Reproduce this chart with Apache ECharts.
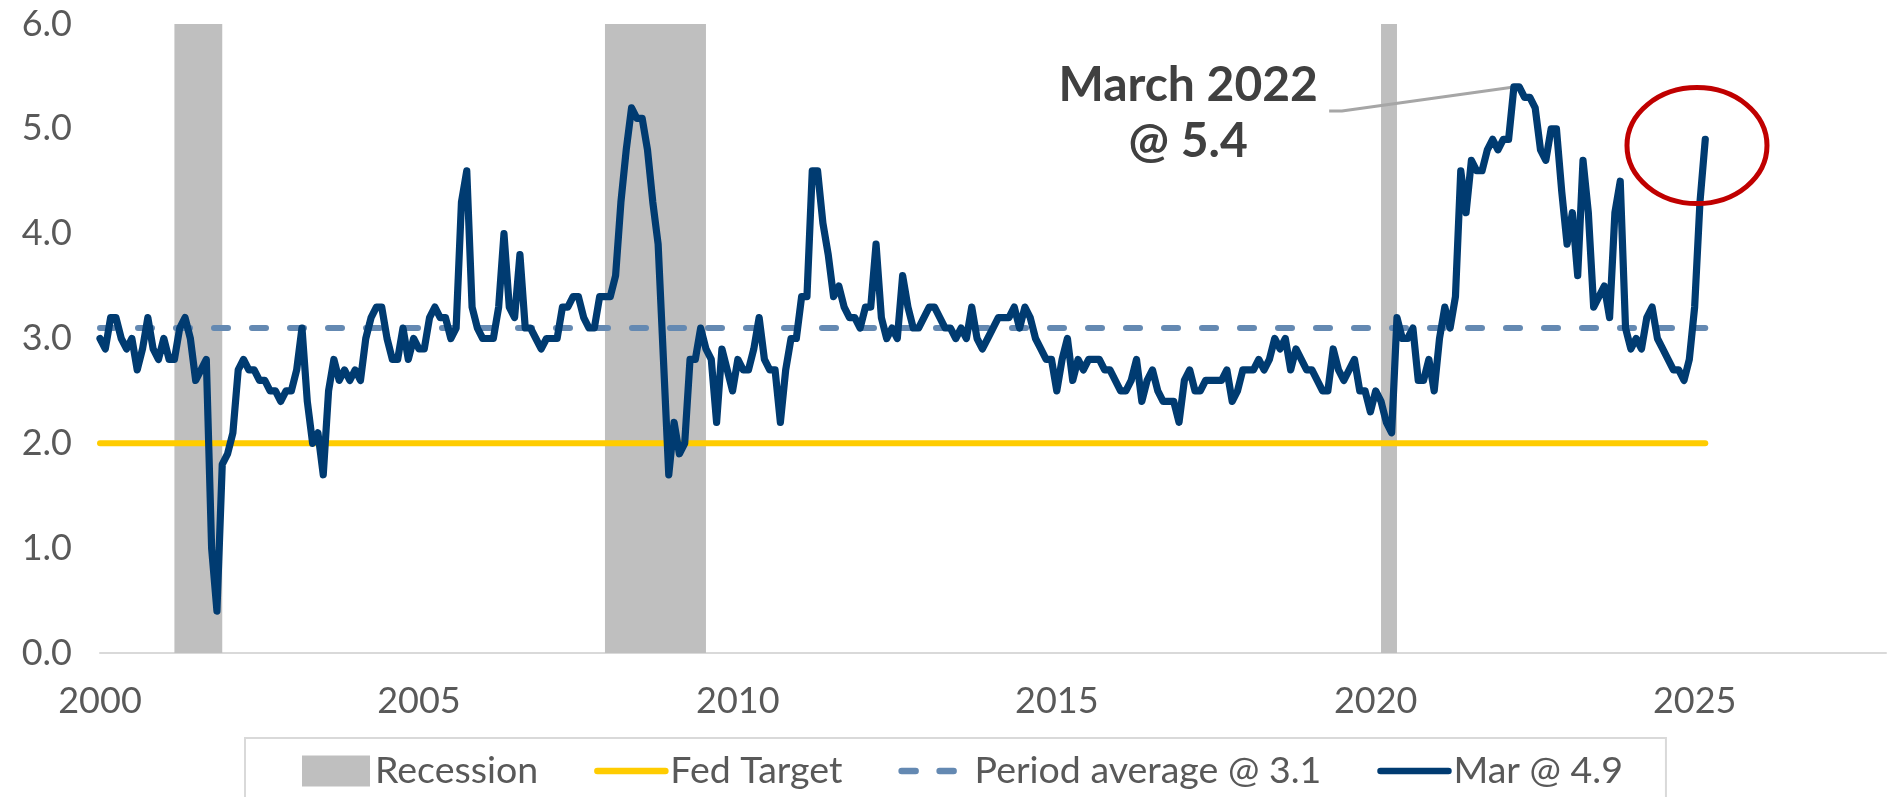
<!DOCTYPE html>
<html>
<head>
<meta charset="utf-8">
<script src="https://cdn.jsdelivr.net/npm/echarts@6/dist/echarts.min.js"></script>
<style>
  html, body { margin: 0; padding: 0; background: #fff; }
  #chart { width: 1892px; height: 797px; }
</style>
</head>
<body>
<div id="chart"></div>
<script>
// monthly 1-year inflation expectations, Jan 2000 .. Mar 2025
const startYear = 2000;
const expectations = [
  3.0, 2.9, 3.2, 3.2, 3.0, 2.9, 3.0, 2.7, 2.9, 3.2, 2.9, 2.8, // 2000
  3.0, 2.8, 2.8, 3.1, 3.2, 3.0, 2.6, 2.7, 2.8, 1.0, 0.4, 1.8, // 2001
  1.9, 2.1, 2.7, 2.8, 2.7, 2.7, 2.6, 2.6, 2.5, 2.5, 2.4, 2.5, // 2002
  2.5, 2.7, 3.1, 2.4, 2.0, 2.1, 1.7, 2.5, 2.8, 2.6, 2.7, 2.6, // 2003
  2.7, 2.6, 3.0, 3.2, 3.3, 3.3, 3.0, 2.8, 2.8, 3.1, 2.8, 3.0, // 2004
  2.9, 2.9, 3.2, 3.3, 3.2, 3.2, 3.0, 3.1, 4.3, 4.6, 3.3, 3.1, // 2005
  3.0, 3.0, 3.0, 3.3, 4.0, 3.3, 3.2, 3.8, 3.1, 3.1, 3.0, 2.9, // 2006
  3.0, 3.0, 3.0, 3.3, 3.3, 3.4, 3.4, 3.2, 3.1, 3.1, 3.4, 3.4, // 2007
  3.4, 3.6, 4.3, 4.8, 5.2, 5.1, 5.1, 4.8, 4.3, 3.9, 2.8, 1.7, // 2008
  2.2, 1.9, 2.0, 2.8, 2.8, 3.1, 2.9, 2.8, 2.2, 2.9, 2.7, 2.5, // 2009
  2.8, 2.7, 2.7, 2.9, 3.2, 2.8, 2.7, 2.7, 2.2, 2.7, 3.0, 3.0, // 2010
  3.4, 3.4, 4.6, 4.6, 4.1, 3.8, 3.4, 3.5, 3.3, 3.2, 3.2, 3.1, // 2011
  3.3, 3.3, 3.9, 3.2, 3.0, 3.1, 3.0, 3.6, 3.3, 3.1, 3.1, 3.2, // 2012
  3.3, 3.3, 3.2, 3.1, 3.1, 3.0, 3.1, 3.0, 3.3, 3.0, 2.9, 3.0, // 2013
  3.1, 3.2, 3.2, 3.2, 3.3, 3.1, 3.3, 3.2, 3.0, 2.9, 2.8, 2.8, // 2014
  2.5, 2.8, 3.0, 2.6, 2.8, 2.7, 2.8, 2.8, 2.8, 2.7, 2.7, 2.6, // 2015
  2.5, 2.5, 2.6, 2.8, 2.4, 2.6, 2.7, 2.5, 2.4, 2.4, 2.4, 2.2, // 2016
  2.6, 2.7, 2.5, 2.5, 2.6, 2.6, 2.6, 2.6, 2.7, 2.4, 2.5, 2.7, // 2017
  2.7, 2.7, 2.8, 2.7, 2.8, 3.0, 2.9, 3.0, 2.7, 2.9, 2.8, 2.7, // 2018
  2.7, 2.6, 2.5, 2.5, 2.9, 2.7, 2.6, 2.7, 2.8, 2.5, 2.5, 2.3, // 2019
  2.5, 2.4, 2.2, 2.1, 3.2, 3.0, 3.0, 3.1, 2.6, 2.6, 2.8, 2.5, // 2020
  3.0, 3.3, 3.1, 3.4, 4.6, 4.2, 4.7, 4.6, 4.6, 4.8, 4.9, 4.8, // 2021
  4.9, 4.9, 5.4, 5.4, 5.3, 5.3, 5.2, 4.8, 4.7, 5.0, 5.0, 4.4, // 2022
  3.9, 4.2, 3.6, 4.7, 4.2, 3.3, 3.4, 3.5, 3.2, 4.2, 4.5, 3.1, // 2023
  2.9, 3.0, 2.9, 3.2, 3.3, 3.0, 2.9, 2.8, 2.7, 2.7, 2.6, 2.8, // 2024
  3.3, 4.3, 4.9                                               // 2025
];
const recessions = [['2001-03', '2001-11'], ['2007-12', '2009-06'], ['2020-02', '2020-04']];
const fedTarget = 2.0;
const periodAverage = 3.1;
const xTicks = [2000, 2005, 2010, 2015, 2020, 2025];
const yTicks = [0, 1, 2, 3, 4, 5, 6];
const peak = { month: '2022-03', value: 5.4, label: ['March 2022', '@ 5.4'] };

const FONT = 'Lato, "Open Sans", sans-serif';

const monthToX = (ym, end) => {
  const [y, m] = ym.split('-').map(Number);
  return y + (m - (end ? 0 : 1)) / 12;
};
const lineData = expectations.map((v, i) => [startYear + i / 12, v]);
const firstX = lineData[0][0];
const lastX = lineData[lineData.length - 1][0];
const lastValue = expectations[expectations.length - 1];
const peakX = monthToX(peak.month);
const lastName = 'Mar @ ' + lastValue.toFixed(1);

const chart = echarts.init(document.getElementById('chart'));

// line items in the legend: just a thick stroke, no marker
const lineItem = name => ({ name, itemStyle: { opacity: 0 }, lineStyle: { width: 6.5, cap: 'round' } });

chart.setOption({
  animation: false,
  grid: { left: 100, right: 6, top: 24, bottom: 144 },
  xAxis: {
    type: 'value',
    min: xTicks[0],
    max: 2028,
    interval: 5,
    axisLine: { show: true, lineStyle: { color: '#d9d9d9', width: 2 } },
    axisTick: { show: false },
    splitLine: { show: false },
    axisLabel: {
      fontSize: 36, color: '#595959', fontFamily: FONT, margin: 30,
      formatter: v => (xTicks.includes(v) ? String(v) : '')
    }
  },
  yAxis: {
    type: 'value',
    min: yTicks[0],
    max: yTicks[yTicks.length - 1],
    interval: 1,
    axisLine: { show: false },
    axisTick: { show: false },
    splitLine: { show: false },
    axisLabel: {
      fontSize: 36, color: '#595959', fontFamily: FONT, margin: 28,
      formatter: v => v.toFixed(1)
    }
  },
  legend: {
    left: 245,
    top: 738,
    padding: [14, 43, 14, 57],
    borderColor: '#d9d9d9',
    borderWidth: 2,
    itemWidth: 68,
    itemHeight: 31,
    itemGap: 56,
    textStyle: { fontSize: 37.5, color: '#595959', fontFamily: FONT },
    data: [
      { name: 'Recession', icon: 'rect' },
      lineItem('Fed Target'),
      lineItem('Period average @ 3.1'),
      lineItem(lastName)
    ]
  },
  series: [
    {
      name: 'Recession',
      type: 'bar',
      data: [],
      z: 1,
      itemStyle: { color: '#bfbfbf' },
      markArea: {
        silent: true,
        itemStyle: { color: '#bfbfbf', opacity: 1 },
        data: recessions.map(r => [{ xAxis: monthToX(r[0]) }, { xAxis: monthToX(r[1], true) }])
      }
    },
    {
      name: 'Fed Target',
      type: 'line',
      symbol: 'none',
      z: 2,
      data: [[firstX, fedTarget], [lastX, fedTarget]],
      lineStyle: { color: '#ffcc00', width: 6, cap: 'round' },
      itemStyle: { color: '#ffcc00' }
    },
    {
      name: 'Period average @ 3.1',
      type: 'line',
      symbol: 'none',
      z: 2,
      data: [[firstX, periodAverage], [lastX, periodAverage]],
      lineStyle: { color: '#6489b2', width: 6, type: [14, 24], cap: 'round' },
      itemStyle: { color: '#6489b2' }
    },
    {
      name: lastName,
      type: 'line',
      symbol: 'none',
      z: 4,
      data: lineData,
      lineStyle: { color: '#003b71', width: 7.2, join: 'round', cap: 'round' },
      itemStyle: { color: '#003b71' }
    },
    {
      // leader line for the peak label
      name: 'leader',
      type: 'line',
      symbol: 'none',
      silent: true,
      z: 3,
      data: [[2019.27, 5.17], [2019.47, 5.17], [peakX, peak.value]],
      lineStyle: { color: '#a6a6a6', width: 3 }
    }
  ]
});

// annotations placed through the chart's own scales
const labelPos = chart.convertToPixel({ gridIndex: 0 }, [2017.06, 5.145]);
const circlePos = chart.convertToPixel({ gridIndex: 0 }, [lastX - 0.13, 4.84]);
chart.setOption({
  graphic: [
    {
      type: 'text',
      x: labelPos[0],
      y: labelPos[1],
      z: 10,
      style: {
        text: peak.label.join('\n'),
        fill: '#404040',
        font: 'bold 48px ' + FONT,
        align: 'center',
        verticalAlign: 'middle',
        lineHeight: 56
      }
    },
    {
      type: 'ellipse',
      z: 10,
      shape: { cx: circlePos[0], cy: circlePos[1], rx: 70, ry: 58 },
      style: { fill: 'none', stroke: '#c00000', lineWidth: 5 }
    }
  ]
});
</script>
</body>
</html>
